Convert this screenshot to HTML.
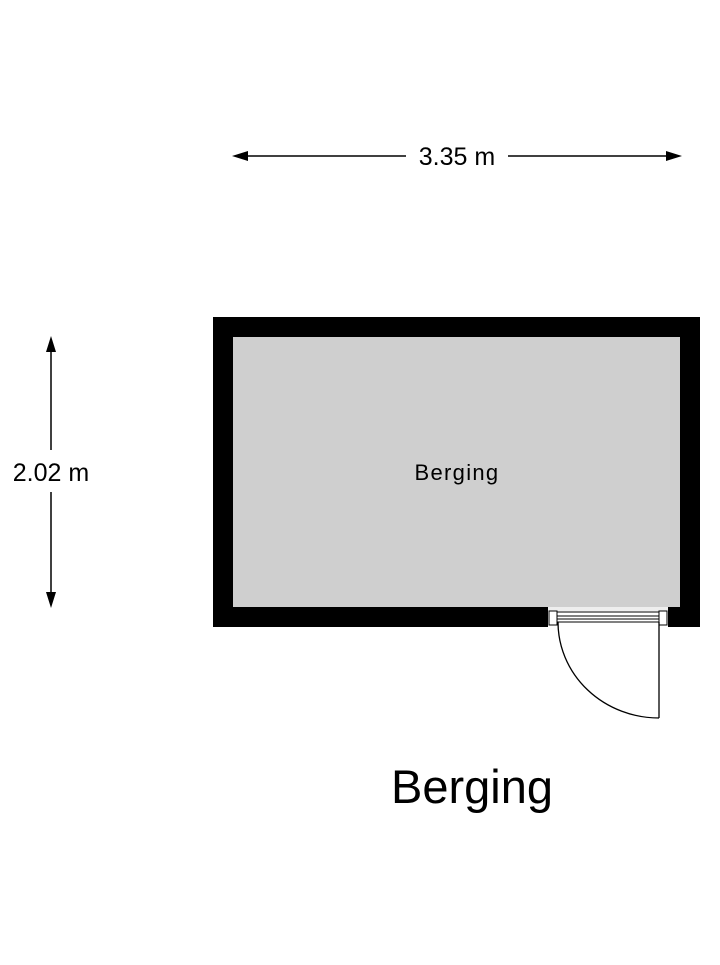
<!DOCTYPE html>
<html><head><style>body{margin:0;background:#fff}</style></head><body>
<svg width="720" height="960" xmlns="http://www.w3.org/2000/svg" font-family="Liberation Sans, sans-serif">
<rect width="720" height="960" fill="#fff"/>
<line x1="240" y1="156" x2="406" y2="156" stroke="#000" stroke-width="1.5"/>
<line x1="508" y1="156" x2="674" y2="156" stroke="#000" stroke-width="1.5"/>
<polygon points="232,156 248,151 248,161" fill="#000"/>
<polygon points="682,156 666,151 666,161" fill="#000"/>
<text x="457" y="165" font-size="25" text-anchor="middle">3.35 m</text>
<line x1="51" y1="344" x2="51" y2="450" stroke="#000" stroke-width="1.5"/>
<line x1="51" y1="492" x2="51" y2="600" stroke="#000" stroke-width="1.5"/>
<polygon points="51,336 46,352 56,352" fill="#000"/>
<polygon points="51,608 46,592 56,592" fill="#000"/>
<text x="51" y="481" font-size="25" text-anchor="middle">2.02 m</text>
<rect x="213" y="317" width="487" height="310" fill="#000"/>
<rect x="233" y="337" width="447" height="270" fill="#cfcfcf"/>
<rect x="548" y="607" width="120" height="20" fill="#fff"/>
<rect x="548" y="607" width="120" height="4" fill="#eee"/>
<rect x="549" y="611" width="8" height="14" fill="#fff" stroke="#000" stroke-width="1"/>
<rect x="659" y="611" width="8" height="14" fill="#fff" stroke="#000" stroke-width="1"/>
<line x1="557" y1="612" x2="659" y2="612" stroke="#000" stroke-width="1"/>
<line x1="557" y1="616" x2="659" y2="616" stroke="#000" stroke-width="1"/>
<line x1="557" y1="619" x2="659" y2="619" stroke="#000" stroke-width="1"/>
<line x1="557" y1="622" x2="659" y2="622" stroke="#000" stroke-width="1"/>
<line x1="659" y1="622" x2="659" y2="718" stroke="#000" stroke-width="1.3"/>
<path d="M558,622 A101,96 0 0 0 659,718" fill="none" stroke="#000" stroke-width="1.3"/>
<text x="457" y="480" font-size="22" text-anchor="middle" letter-spacing="1.3">Berging</text>
<text x="472" y="803" font-size="47" text-anchor="middle">Berging</text>
</svg>
</body></html>
